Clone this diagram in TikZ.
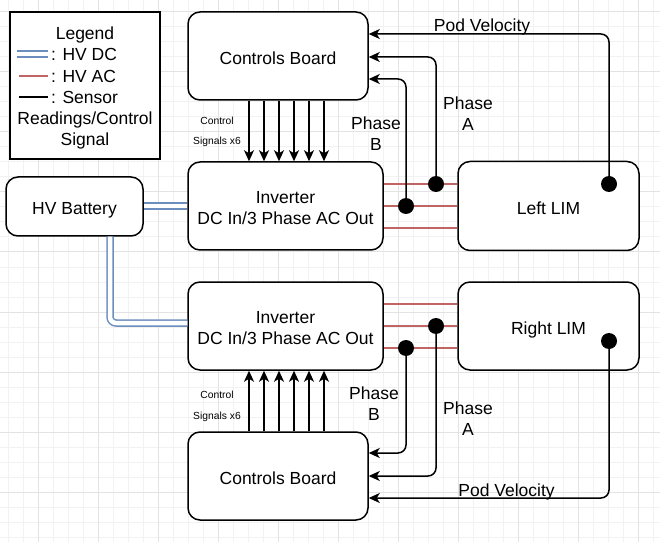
\documentclass[tikz,border=0pt]{standalone}
\usepackage{fontspec}
\setmainfont{Liberation Sans}
\usetikzlibrary{arrows.meta,calc}
\definecolor{dcblue}{HTML}{6C8EBF}
\definecolor{acred}{HTML}{C06464}
\definecolor{gridminor}{HTML}{F2F2F2}
\definecolor{gridmajor}{HTML}{E3E3E3}
\newcommand{\bigtxt}{\fontsize{17.5}{21}\selectfont}
\newcommand{\smalltxt}{\fontsize{10.3}{12}\selectfont}
\newcommand{\topstrut}{\rule{0pt}{16.5pt}}
\begin{document}
\begin{tikzpicture}[x=1pt,y=-1pt,
  blk/.style={draw,fill=white,line width=1.5pt,rounded corners=12pt,align=center,inner sep=0pt,font=\bigtxt},
  blk1/.style={blk,text height=16.5pt,text depth=0pt},
  sig/.style={line width=1.5pt,-{Stealth[length=11pt,width=10pt,inset=3pt]},rounded corners=8pt},
  ac/.style={draw=acred,line width=1.5pt},
  dc/.style={draw=dcblue,line width=1.5pt,double=white,double distance=4.5pt,rounded corners=6pt},
  dot/.style={circle,fill=black,minimum size=16pt,inner sep=0pt},
  lbl/.style={font=\bigtxt,align=center,inner sep=0pt},
  one/.style={font=\bigtxt,inner sep=0pt,text height=12.5pt,text depth=0pt},
  small/.style={font=\smalltxt,inner sep=0pt,text height=7.4pt,text depth=0pt}]
\useasboundingbox (0,0) rectangle (664,556);
\fill[white] (0,0) rectangle (664,556);
% grid
\foreach \gx in {8,23,...,660} \draw[gridminor,line width=1pt] (\gx,0) -- (\gx,542);
\foreach \gy in {12,27,...,542} \draw[gridminor,line width=1pt] (0,\gy) -- (660,\gy);
\foreach \gx in {38,98,...,660} \draw[gridmajor,line width=1pt] (\gx,0) -- (\gx,542);
\foreach \gy in {12,72,...,542} \draw[gridmajor,line width=1pt] (0,\gy) -- (660,\gy);

% legend
\node[draw,fill=white,line width=1.5pt,minimum width=150pt,minimum height=147pt,inner sep=0pt] (leg) at (85,85.5) {};
\node[one] (legT) at (85,33) {Legend};
\node[one,anchor=west] (legDC) at (51,54) {: HV DC};
\node[one,anchor=west] (legAC) at (51,76) {: HV AC};
\node[one,anchor=west] (legS) at (51,97) {: Sensor};
\node[one] (legR) at (85,118) {Readings/Control};
\node[one] (legSig) at (85,139) {Signal};
\coordinate (ldc1) at (17,54); \coordinate (ldc2) at (48,54);
\coordinate (lac1) at (19,76); \coordinate (lac2) at (48,76);
\coordinate (ls1) at (19,97); \coordinate (ls2) at (48,97);
\draw[dc] (ldc1) -- (ldc2);
\draw[ac] (lac1) -- (lac2);
\draw[line width=1.5pt] (ls1) -- (ls2);

% blocks
\node[blk1,minimum width=180pt,minimum height=88pt] (cbT) at (278,56) {Controls Board};
\node[blk,minimum width=195pt,minimum height=88pt] (invT) at (285.5,206) {\topstrut Inverter\\DC In/3 Phase AC Out};
\node[blk1,minimum width=181pt,minimum height=89pt] (lLIM) at (548.5,206) {Left LIM};
\node[blk1,minimum width=137pt,minimum height=59pt] (bat) at (74.5,206.5) {HV Battery};
\node[blk,minimum width=195pt,minimum height=88pt] (invB) at (285.5,326) {\topstrut Inverter\\DC In/3 Phase AC Out};
\node[blk1,minimum width=181pt,minimum height=88pt] (rLIM) at (548.5,326) {Right LIM};
\node[blk1,minimum width=180pt,minimum height=88pt] (cbB) at (278,476) {Controls Board};

% DC links
\draw[dc] (bat.east |- invT.west) -- (invT.west);
\draw[dc] ($(bat.south)+(35.5,0)$) |- ($(invB.west)+(0,-3)$);

% AC links
\foreach \dy in {-22,0,22} {
  \draw[ac] ($(invT.east)+(0,\dy)$) -- ($(lLIM.west)+(0,\dy)$);
  \draw[ac] ($(invB.east)+(0,\dy)$) -- ($(rLIM.west)+(0,\dy)$);
}

% sensor dots
\node[dot] (dTA) at (436,184) {};
\node[dot] (dTB) at (406,206) {};
\node[dot] (dTV) at (609,184) {};
\node[dot] (dBA) at (436,326) {};
\node[dot] (dBB) at (406,348) {};
\node[dot] (dBV) at (609,341) {};

\draw[sig] (dTA.center) |- ($(cbT.east)+(0,1)$);
\draw[sig] (dTB.center) |- ($(cbT.east)+(0,23)$);
\draw[sig] (dTV.center) |- ($(cbT.east)+(0,-22)$);
\draw[sig] (dBA.center) |- (cbB.east);
\draw[sig] (dBB.center) |- ($(cbB.east)+(0,-23)$);
\draw[sig] (dBV.center) |- ($(cbB.east)+(0,22)$);

% control signals
\foreach \dx in {-29,-14,1,16,31,46} {
  \path ($(cbT.south)+(\dx,0)$) coordinate (cs);
  \draw[sig] (cs) -- (cs |- invT.north);
  \path ($(cbB.north)+(\dx,0)$) coordinate (cb);
  \draw[sig] (cb) -- (cb |- invB.south);
}

% labels
\node[one] (pvT) at (482,25) {Pod Velocity};
\node[one] (pvB) at (506.5,490) {Pod Velocity};
\node[lbl] (phTA) at (468,114) {Phase\\A};
\node[lbl] (phTB) at (376,134) {Phase\\B};
\node[lbl] (phBB) at (374,404) {Phase\\B};
\node[lbl] (phBA) at (468,419) {Phase\\A};
\node[small] (ctT) at (217,121) {Control};
\node[small] (sgT) at (217,141) {Signals x6};
\node[small] (ctB) at (217,395) {Control};
\node[small] (sgB) at (217,416) {Signals x6};
\end{tikzpicture}
\end{document}
